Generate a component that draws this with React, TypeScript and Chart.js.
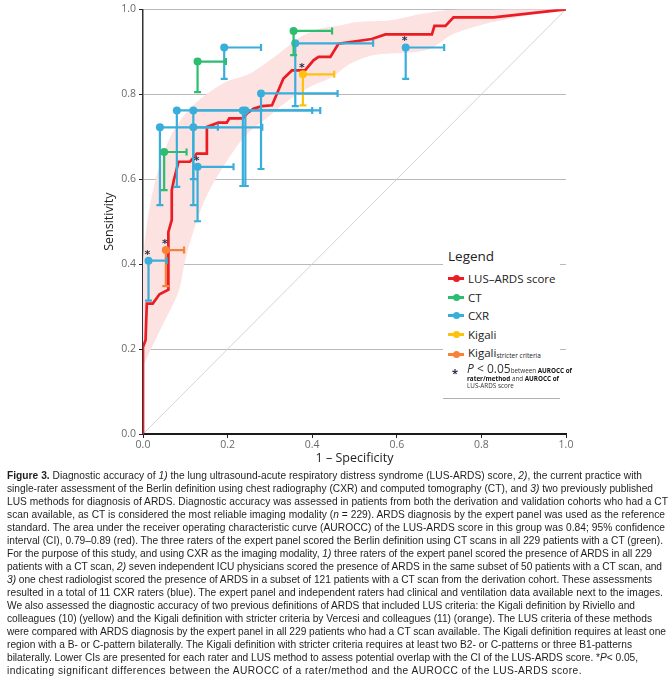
import React, { useEffect, useLayoutEffect, useRef } from "react";
import { Chart, registerables } from "chart.js";

Chart.register(...registerables);

const RED = "#ec1c24";
const GREEN = "#2dbd6e";
const BLUE = "#3aaedb";
const YELLOW = "#fdc20f";
const ORANGE = "#f78237";
const BAND = "#fde2e2";

// LUS-ARDS score ROC curve
const rocFpr = [0, 0, 0.006, 0.009, 0.023, 0.039, 0.06, 0.06, 0.068, 0.068, 0.073, 0.084, 0.111, 0.127, 0.151, 0.151, 0.178, 0.198, 0.204, 0.236, 0.245, 0.261, 0.281, 0.305, 0.332, 0.352, 0.383, 0.403, 0.415, 0.443, 0.462, 0.541, 0.573, 0.683, 0.689, 0.715, 0.734, 0.829, 1.0];
const rocTpr = [0, 0.205, 0.221, 0.307, 0.307, 0.329, 0.34, 0.476, 0.504, 0.574, 0.598, 0.641, 0.641, 0.66, 0.66, 0.723, 0.733, 0.733, 0.743, 0.743, 0.754, 0.766, 0.772, 0.774, 0.837, 0.856, 0.856, 0.88, 0.888, 0.888, 0.919, 0.93, 0.941, 0.941, 0.961, 0.961, 0.981, 0.981, 1.0];

// 95% CI band of the ROC curve
const bandUpperFpr = [0, 0, 0.01, 0.025, 0.045, 0.07, 0.11, 0.15, 0.198, 0.253, 0.316, 0.372, 0.42, 0.466, 0.506, 0.585, 0.663, 0.734, 1.0];
const bandUpperTpr = [0.16, 0.4, 0.5, 0.58, 0.65, 0.71, 0.765, 0.8, 0.83, 0.849, 0.892, 0.935, 0.955, 0.962, 0.97, 0.974, 0.99, 0.999, 1.0];
const bandLowerFpr = [0, 0.044, 0.084, 0.1, 0.12, 0.15, 0.19, 0.24, 0.3, 0.35, 0.4, 0.443, 0.49, 0.544, 0.671, 0.738, 0.85, 1.0];
const bandLowerTpr = [0.16, 0.252, 0.335, 0.41, 0.48, 0.56, 0.63, 0.7, 0.75, 0.79, 0.82, 0.838, 0.872, 0.892, 0.904, 0.944, 0.975, 1.0];

// CT raters
const ctFpr = [0.129, 0.05, 0.356];
const ctTpr = [0.877, 0.664, 0.949];
const ctFprUpper = [0.196, 0.103, 0.447];
const ctTprLower = [0.805, 0.574, 0.892];

// CXR raters
const cxrFpr = [0.192, 0.36, 0.279, 0.08, 0.119, 0.236, 0.242, 0.04, 0.119, 0.129, 0.621, 0.013];
const cxrTpr = [0.91, 0.92, 0.802, 0.762, 0.762, 0.762, 0.762, 0.722, 0.722, 0.629, 0.91, 0.408];
const cxrFprUpper = [0.279, 0.544, 0.46, 0.236, 0.242, 0.419, 0.4, 0.177, 0.282, 0.214, 0.712, 0.056];
const cxrTprLower = [0.836, 0.772, 0.624, 0.582, 0.6, 0.584, 0.584, 0.539, 0.539, 0.501, 0.836, 0.314];

// Kigali
const kigaliFpr = [0.378];
const kigaliTpr = [0.847];
const kigaliFprUpper = [0.452];
const kigaliTprLower = [0.774];

// Kigali stricter criteria
const kigaliStrictFpr = [0.054];
const kigaliStrictTpr = [0.433];
const kigaliStrictFprUpper = [0.097];
const kigaliStrictTprLower = [0.348];

// significance markers
const starFpr = [0.013, 0.054, 0.129, 0.378, 0.621];
const starTpr = [0.408, 0.433, 0.629, 0.847, 0.91];

const tickLabels = ["0.0", "0.2", "0.4", "0.6", "0.8", "1.0"];

const toPts = (xs: number[], ys: number[]) => xs.map((x, i) => ({ x, y: ys[i] }));

const captionLines: [string, string][][] = [
  [["Figure 3.", "b"], [" Diagnostic accuracy of ", ""], ["1)", "i"], [" the lung ultrasound-acute respiratory distress syndrome (LUS-ARDS) score, ", ""], ["2)", "i"], [", the current practice with", ""]],
  [["single-rater assessment of the Berlin definition using chest radiography (CXR) and computed tomography (CT), and ", ""], ["3)", "i"], [" two previously published", ""]],
  [["LUS methods for diagnosis of ARDS. Diagnostic accuracy was assessed in patients from both the derivation and validation cohorts who had a CT", ""]],
  [["scan available, as CT is considered the most reliable imaging modality (", ""], ["n", "i"], [" = 229). ARDS diagnosis by the expert panel was used as the reference", ""]],
  [["standard. The area under the receiver operating characteristic curve (AUROCC) of the LUS-ARDS score in this group was 0.84; 95% confidence", ""]],
  [["interval (CI), 0.79\u20130.89 (red). The three raters of the expert panel scored the Berlin definition using CT scans in all 229 patients with a CT (green).", ""]],
  [["For the purpose of this study, and using CXR as the imaging modality, ", ""], ["1)", "i"], [" three raters of the expert panel scored the presence of ARDS in all 229", ""]],
  [["patients with a CT scan, ", ""], ["2)", "i"], [" seven independent ICU physicians scored the presence of ARDS in the same subset of 50 patients with a CT scan, and", ""]],
  [["3)", "i"], [" one chest radiologist scored the presence of ARDS in a subset of 121 patients with a CT scan from the derivation cohort. These assessments", ""]],
  [["resulted in a total of 11 CXR raters (blue). The expert panel and independent raters had clinical and ventilation data available next to the images.", ""]],
  [["We also assessed the diagnostic accuracy of two previous definitions of ARDS that included LUS criteria: the Kigali definition by Riviello and", ""]],
  [["colleagues (10) (yellow) and the Kigali definition with stricter criteria by Vercesi and colleagues (11) (orange). The LUS criteria of these methods", ""]],
  [["were compared with ARDS diagnosis by the expert panel in all 229 patients who had a CT scan available. The Kigali definition requires at least one", ""]],
  [["region with a B- or C-pattern bilaterally. The Kigali definition with stricter criteria requires at least two B2- or C-patterns or three B1-patterns", ""]],
  [["bilaterally. Lower CIs are presented for each rater and LUS method to assess potential overlap with the CI of the LUS-ARDS score. *", ""], ["P", "i"], ["< 0.05,", ""]],
  [["indicating significant differences between the AUROCC of a rater/method and the AUROCC of the LUS-ARDS score.", ""]],
];
// rendered width of each caption line in the printed figure (text layout)
const captionLineWidths = [635, 646, 661, 658, 658, 656, 645, 655, 645, 656, 628, 645, 659, 625, 631, 575];

const errorBarPlugin = {
  id: "errorBars",
  afterDatasetDraw(chart: any, args: any) {
    const ds: any = chart.data.datasets[args.index];
    if (!ds.fprUpper) return;
    const { ctx } = chart;
    const xs = chart.scales.x;
    const ys = chart.scales.y;
    ctx.save();
    ctx.strokeStyle = ds.borderColor;
    ctx.lineWidth = 2.2;
    ds.data.forEach((p: any, i: number) => {
      const px = xs.getPixelForValue(p.x);
      const py = ys.getPixelForValue(p.y);
      const hx = xs.getPixelForValue(ds.fprUpper[i]);
      const ly = ys.getPixelForValue(ds.tprLower[i]);
      ctx.beginPath();
      ctx.moveTo(px, py);
      ctx.lineTo(hx, py);
      ctx.moveTo(hx, py - 3.5);
      ctx.lineTo(hx, py + 3.5);
      ctx.moveTo(px, py);
      ctx.lineTo(px, ly);
      ctx.moveTo(px - 3.5, ly);
      ctx.lineTo(px + 3.5, ly);
      ctx.stroke();
    });
    ctx.restore();
  },
};

const starPlugin = {
  id: "stars",
  afterDatasetsDraw(chart: any) {
    const { ctx } = chart;
    const xs = chart.scales.x;
    const ys = chart.scales.y;
    ctx.save();
    ctx.fillStyle = "#2a2f45";
    ctx.font = "bold 11px 'DejaVu Sans'";
    ctx.textAlign = "center";
    ctx.textBaseline = "middle";
    starFpr.forEach((fx, i) => {
      const px = xs.getPixelForValue(fx);
      const py = ys.getPixelForValue(starTpr[i]);
      ctx.fillText("*", px - 1, py - 6);
    });
    ctx.restore();
  },
};

function LegendSwatch({ color }: { color: string }) {
  return (
    <span style={{ position: "relative", display: "inline-block", width: 16, height: 10, marginRight: 4, verticalAlign: "middle" }}>
      <span style={{ position: "absolute", left: 0, right: 0, top: 3.5, height: 3, background: color }} />
      <span style={{ position: "absolute", left: 4.5, top: 1.5, width: 7, height: 7, borderRadius: "50%", background: color }} />
    </span>
  );
}

export default function App() {
  const canvasRef = useRef<HTMLCanvasElement | null>(null);
  const lineRefs = useRef<(HTMLSpanElement | null)[]>([]);

  useLayoutEffect(() => {
    document.body.style.margin = "0";
    lineRefs.current.forEach((el, i) => {
      if (!el) return;
      el.style.letterSpacing = "0px";
      const w = el.getBoundingClientRect().width;
      const n = (el.textContent || "").length;
      if (n > 0) el.style.letterSpacing = (captionLineWidths[i] - w) / n + "px";
    });
  }, []);

  useEffect(() => {
    if (!canvasRef.current) return;
    const band = [...toPts(bandUpperFpr, bandUpperTpr), ...toPts(bandLowerFpr, bandLowerTpr).reverse()];
    const pointDs = (label: string, color: string, xs: number[], ys: number[], up: number[], lo: number[]) => ({
      label,
      data: toPts(xs, ys),
      borderColor: color,
      backgroundColor: color,
      pointRadius: 4,
      pointBorderWidth: 0,
      showLine: false,
      fprUpper: up,
      tprLower: lo,
      order: 1,
    });
    const chart = new Chart(canvasRef.current, {
      type: "scatter",
      data: {
        datasets: [
          {
            label: "CI",
            data: band,
            showLine: true,
            fill: "shape",
            backgroundColor: BAND,
            borderWidth: 0,
            pointRadius: 0,
            tension: 0.3,
            order: 6,
          } as any,
          {
            label: "diag",
            data: [{ x: 0, y: 0 }, { x: 1, y: 1 }],
            showLine: true,
            borderColor: "#d4d4d4",
            borderWidth: 1,
            pointRadius: 0,
            order: 5,
          },
          {
            label: "LUS-ARDS score",
            data: toPts(rocFpr, rocTpr),
            showLine: true,
            borderColor: RED,
            borderWidth: 2.7,
            pointRadius: 0,
            order: 4,
          },
          pointDs("CT", GREEN, ctFpr, ctTpr, ctFprUpper, ctTprLower) as any,
          pointDs("CXR", BLUE, cxrFpr, cxrTpr, cxrFprUpper, cxrTprLower) as any,
          pointDs("Kigali", YELLOW, kigaliFpr, kigaliTpr, kigaliFprUpper, kigaliTprLower) as any,
          pointDs("Kigali stricter", ORANGE, kigaliStrictFpr, kigaliStrictTpr, kigaliStrictFprUpper, kigaliStrictTprLower) as any,
        ],
      },
      options: {
        animation: false,
        responsive: false,
        devicePixelRatio: 1,
        layout: { padding: { left: 98, right: 105, top: 9, bottom: 0 } },
        plugins: { legend: { display: false }, tooltip: { enabled: false } },
        scales: {
          x: {
            type: "linear",
            min: 0,
            max: 1,
            afterFit: (s: any) => { s.height = 36; },
            ticks: {
              stepSize: 0.2,
              padding: 1,
              color: "#6a6a6a",
              font: { family: "'Open Sans'", size: 10.5 },
              callback: (v: any) => tickLabels[Math.round(Number(v) / 0.2)],
            },
            grid: { drawOnChartArea: false, drawTicks: true, tickLength: 4, tickColor: "#222", tickWidth: 1 },
            border: { display: true, color: "#1a1a1a", width: 2 },
            title: { display: true, text: "1 \u2013 Specificity", color: "#222", font: { family: "'Open Sans'", size: 12.5 }, padding: { top: 0, bottom: 4 } },
          },
          y: {
            type: "linear",
            min: 0,
            max: 1,
            afterFit: (s: any) => { s.width = 45; },
            ticks: {
              stepSize: 0.2,
              padding: 3,
              color: "#6a6a6a",
              font: { family: "'Open Sans'", size: 10.5 },
              callback: (v: any) => tickLabels[Math.round(Number(v) / 0.2)],
            },
            grid: { color: "#b9b9b9", lineWidth: 1, drawTicks: true, tickLength: 4, tickColor: "#222", tickWidth: 1 },
            border: { display: true, color: "#333", width: 1.5 },
            title: { display: true, text: "Sensitivity", color: "#222", font: { family: "'Open Sans'", size: 12.5 }, padding: { top: 4, bottom: 4 } },
          },
        },
      } as any,
      plugins: [errorBarPlugin, starPlugin],
    });
    return () => chart.destroy();
  }, []);

  const item = (color: string, label: React.ReactNode, top: number) => (
    <div style={{ position: "absolute", left: 5, top, whiteSpace: "nowrap", fontSize: 11.5, color: "#222", lineHeight: "14px" }}>
      <LegendSwatch color={color} />
      <span style={{ verticalAlign: "middle" }}>{label}</span>
    </div>
  );

  return (
    <div style={{ position: "relative", width: 671, height: 679, overflow: "hidden", fontFamily: "'Open Sans', sans-serif" }}>
      <style>{"body{margin:0}"}</style>
      <canvas ref={canvasRef} width={671} height={470} style={{ position: "absolute", left: 0, top: 0, width: 671, height: 470 }} />
      <div style={{ position: "absolute", left: 443, top: 243, width: 117, height: 155, background: "#fff", borderBottom: "1px solid #b0b0b0" }}>
        <div style={{ position: "absolute", left: 5, top: 4, fontSize: 13.5, color: "#222" }}>Legend</div>
        {item(RED, "LUS\u2013ARDS score", 28)}
        {item(GREEN, "CT", 47)}
        {item(BLUE, "CXR", 65)}
        {item(YELLOW, "Kigali", 84)}
        {item(ORANGE, <span>Kigali<sub style={{ fontSize: 6.5, verticalAlign: "-1px" }}>stricter criteria</sub></span>, 103)}
        <div style={{ position: "absolute", left: 9, top: 122, fontSize: 11, color: "#2a2f45", fontWeight: 700 }}>*</div>
        <div style={{ position: "absolute", left: 24, top: 122, whiteSpace: "nowrap", fontSize: 6.3, lineHeight: "7.6px", color: "#333" }}>
          <span style={{ fontStyle: "italic", fontSize: 12 }}>P</span>
          <span style={{ fontSize: 12 }}> &lt; 0.05</span>
          <span>between </span>
          <b style={{ color: "#111" }}>AUROCC of</b>
          <br />
          <b style={{ color: "#111" }}>rater/method</b>
          <span> and </span>
          <b style={{ color: "#111" }}>AUROCC of</b>
          <br />
          <span>LUS-ARDS score</span>
        </div>
      </div>
      <div style={{ position: "absolute", left: 7, top: 469, fontFamily: "'Liberation Sans', Arial, sans-serif", fontSize: 10.2, lineHeight: "13px", color: "#1e1e1e" }}>
        {captionLines.map((line, li) => (
          <div key={li} style={{ whiteSpace: "nowrap", height: 13 }}>
            <span ref={(el) => { lineRefs.current[li] = el; }} style={{ display: "inline-block" }}>
              {line.map(([t, s], si) => (
                <span key={si} style={{ fontWeight: s === "b" ? 700 : 400, fontStyle: s === "i" ? "italic" : "normal" }}>{t}</span>
              ))}
            </span>
          </div>
        ))}
      </div>
    </div>
  );
}
